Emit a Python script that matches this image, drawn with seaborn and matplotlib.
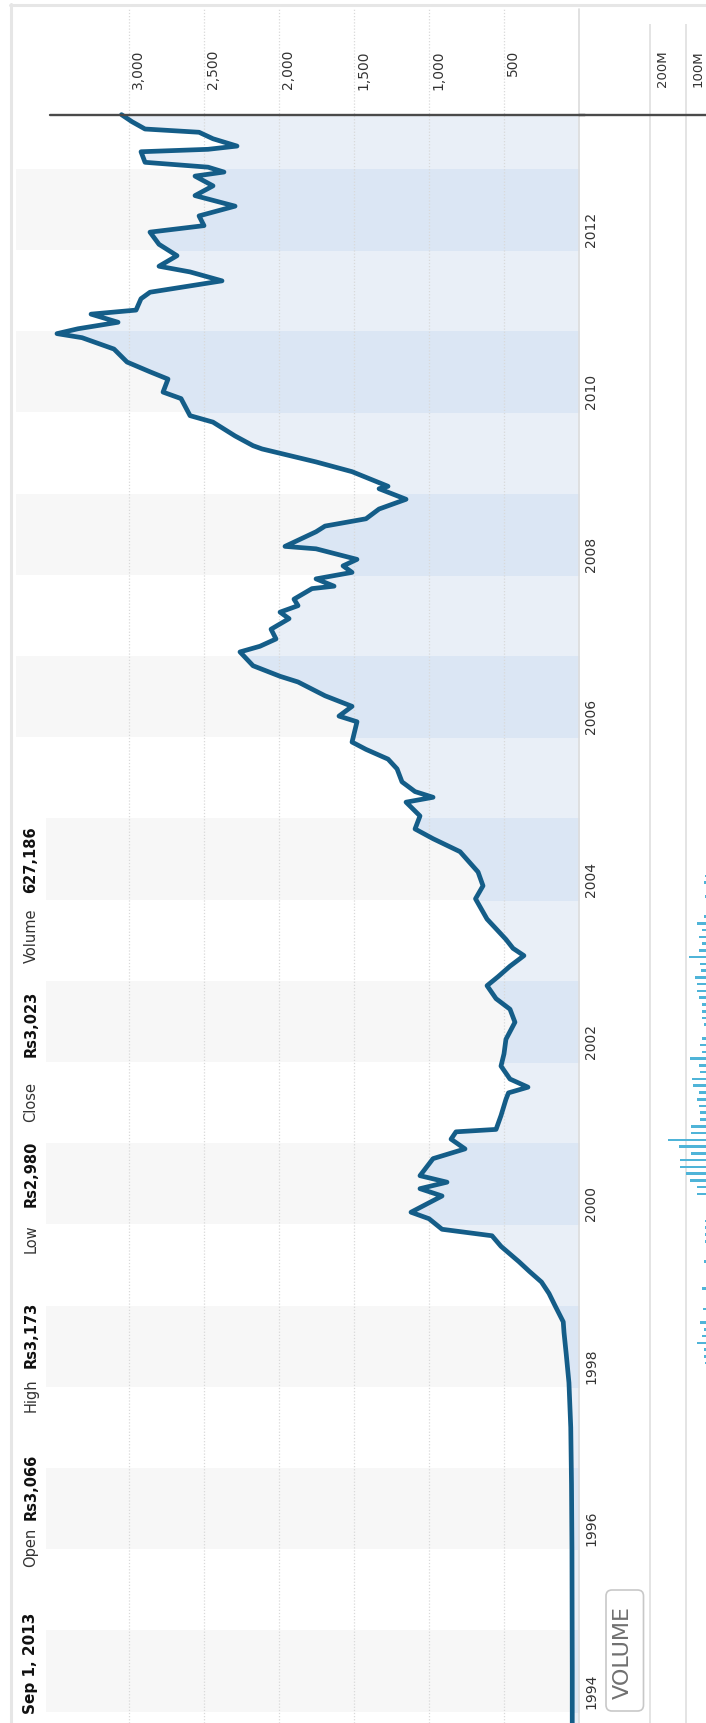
import numpy as np
import pandas as pd
import matplotlib
matplotlib.use("Agg")
import matplotlib.pyplot as plt
import matplotlib.transforms as mtransforms
from matplotlib.patches import Rectangle, FancyBboxPatch
from matplotlib.lines import Line2D
import seaborn as sns

# ---------------- data ----------------
price_time = [1993.86, 1994.50, 1995.30, 1996.00, 1996.80, 1997.50, 1998.05, 1998.40,
              1998.67, 1998.80, 1999.00, 1999.15, 1999.29, 1999.42, 1999.54, 1999.65,
              1999.73, 1999.86, 1999.94, 2000.07, 2000.15, 2000.35, 2000.44, 2000.52,
              2000.60, 2000.81, 2000.93, 2001.05, 2001.14, 2001.17, 2001.34, 2001.54,
              2001.62, 2001.69, 2001.79, 2001.95, 2002.10, 2002.28, 2002.49, 2002.65,
              2002.78, 2002.94, 2003.05, 2003.18, 2003.31, 2003.40, 2003.51, 2003.76,
              2004.01, 2004.17, 2004.34, 2004.59, 2004.75, 2004.87, 2005.03, 2005.20,
              2005.26, 2005.33, 2005.45, 2005.61, 2005.73, 2005.85, 2005.94, 2006.19,
              2006.26, 2006.38, 2006.51, 2006.68, 2006.75, 2006.88, 2007.05, 2007.12,
              2007.21, 2007.33, 2007.46, 2007.54, 2007.62, 2007.70, 2007.83, 2007.86,
              2007.95, 2008.03, 2008.11, 2008.19, 2008.32, 2008.35, 2008.53, 2008.60,
              2008.69, 2008.81, 2008.93, 2009.06, 2009.09, 2009.27, 2009.39, 2009.55,
              2009.59, 2009.71, 2009.88, 2009.96, 2010.17, 2010.25, 2010.41, 2010.50,
              2010.62, 2010.78, 2010.92, 2010.97, 2011.03, 2011.11, 2011.21, 2011.26,
              2011.40, 2011.48, 2011.62, 2011.73, 2011.80, 2011.93, 2012.07, 2012.22,
              2012.30, 2012.42, 2012.54, 2012.67, 2012.79, 2012.91, 2012.96, 2013.02,
              2013.08, 2013.21, 2013.24, 2013.28, 2013.37, 2013.45, 2013.49, 2013.58,
              2013.667]
price_value = [45, 45, 46, 47, 50, 55, 67, 85,
               100, 105, 160, 200, 250, 330, 400, 470,
               520, 580, 913, 1000, 1120, 913, 1060, 880,
               1060, 973, 760, 853, 820, 553, 520, 487,
               470, 340, 460, 520, 500, 487, 427, 460,
               553, 613, 540, 460, 367, 440, 487, 613,
               690, 640, 673, 793, 973, 1093, 1060, 1153,
               973, 1093, 1180, 1213, 1273, 1420, 1513, 1480,
               1600, 1513, 1693, 1873, 1993, 2173, 2260, 2127,
               2020, 2053, 1933, 1993, 1873, 1900, 1780, 1633,
               1753, 1513, 1573, 1480, 1753, 1960, 1753, 1693,
               1420, 1333, 1153, 1333, 1273, 1513, 1753, 2113,
               2173, 2293, 2440, 2593, 2653, 2773, 2740, 2860,
               3013, 3100, 3313, 3480, 3340, 3073, 3253, 2953,
               2920, 2860, 2380, 2593, 2800, 2680, 2800, 2860,
               2500, 2533, 2293, 2560, 2440, 2560, 2367, 2473,
               2893, 2920, 2473, 2280, 2440, 2533, 2893, 2980,
               3050]

vol_month = ["1998-04", "1998-05", "1998-06", "1998-07", "1998-08", "1998-09", "1998-10",
             "1998-12", "1999-03", "1999-07", "1999-10", "1999-11", "1999-12", "2000-01",
             "2000-05", "2000-06", "2000-07", "2000-08", "2000-09", "2000-10", "2000-11",
             "2000-12", "2001-01", "2001-02", "2001-03", "2001-04", "2001-05", "2001-06",
             "2001-07", "2001-08", "2001-09", "2001-10", "2001-11", "2001-12", "2002-01",
             "2002-02", "2002-03", "2002-04", "2002-06", "2002-07", "2002-08", "2002-09",
             "2002-10", "2002-11", "2002-12", "2003-01", "2003-02", "2003-03", "2003-04",
             "2003-05", "2003-06", "2003-07", "2003-08", "2003-09", "2003-10", "2004-01",
             "2004-03", "2004-04"]
vol_value = [44, 47, 49, 68, 54, 47, 58,
             51, 54, 49, 44, 44, 44, 44,
             68, 68, 86, 100, 116, 116, 84,
             119, 148, 84, 84, 60, 58, 63,
             68, 63, 79, 83, 58, 63, 88,
             54, 58, 54, 47, 54, 54, 54,
             63, 68, 68, 72, 56, 58, 91,
             63, 54, 63, 54, 68, 47, 45,
             47, 45]

price_ticks = [500, 1000, 1500, 2000, 2500, 3000]
vol_ticks = [100, 200]
year_ticks = list(range(1994, 2013, 2))
date_label = "Sep 1, 2013"
info_labels = ["Open", "High", "Low", "Close", "Volume"]
info_values = ["Rs3,066", "Rs3,173", "Rs2,980", "Rs3,023", "627,186"]
button_label = "VOLUME"

# ---------------- layout ----------------
sns.set_theme(style="white")
plt.rcParams['font.family'] = ['DejaVu Sans']

W, H = 706, 1724
fig = plt.figure(figsize=(W / 100, H / 100), dpi=100)
fig.patch.set_facecolor("white")


def fx(px):
    return px / W


def fy(py):
    return 1 - py / H


PX_PER_YEAR = 81.2
Y2012 = 251
t_bottom = 2012 - (H - Y2012) / PX_PER_YEAR
t_top = 2012 + (Y2012 - 10) / PX_PER_YEAR
last_t = price_time[-1]

ax = fig.add_axes([fx(16), 0, fx(579) - fx(16), fy(10)])
ax2 = fig.add_axes([fx(580), 0, fx(721) - fx(580), fy(10)])

vol_dt = pd.to_datetime(vol_month, format="%Y-%m")
vol_t = list(vol_dt.year + (vol_dt.month - 0.5) / 12.0)

# alternating year bands
for yr in year_ticks:
    ax.axhspan(yr, min(yr + 1, last_t), color="#f7f7f7", lw=0, zorder=0)

# area fill (lighter in white years, a bit stronger in shaded years)
ax.fill_betweenx(price_time, 0, price_value, color="#e9eff7", lw=0, zorder=1)
for yr in year_ticks:
    poly = ax.fill_betweenx(price_time, 0, price_value, color="#dbe6f4", lw=0, zorder=1.1)
    poly.set_clip_path(Rectangle((0, yr), 5000, 1, transform=ax.transData))

# dotted gridlines
ax.vlines(price_ticks, t_bottom, t_top, colors="#d9d9d9", linestyles=(0, (1, 1.5)),
          lw=0.9, zorder=1.5)

# price line
sns.lineplot(x=price_value, y=price_time, orient="y", color="#145d88", lw=3.4,
             ax=ax, zorder=3, solid_joinstyle="round", solid_capstyle="round")

# right border of price area
ax.axvline(0, color="#dcdcdc", lw=1.2, zorder=2, clip_on=False)

# volume area
ax2.vlines(vol_ticks, t_bottom, 2012 + (Y2012 - 25) / PX_PER_YEAR, colors="#dddddd", lw=1.1)
sns.barplot(x=vol_value, y=vol_t, orient="h", native_scale=True, color="#4fb4d8",
            saturation=1, width=0.38, errorbar=None, ax=ax2, zorder=2, lw=0)

ax.set_xlim((579 - 16) / 0.15, 0)
ax.set_ylim(t_bottom, t_top)
ax2.set_xlim((721 - 580) / 0.355, 0)
ax2.set_ylim(t_bottom, t_top)
for a in (ax, ax2):
    a.set_facecolor("none")
    a.axis("off")

# end-of-data line
ax.axhline(last_t, xmin=(50 - 16) / (579 - 16), xmax=1.01, color="#4a4a4a", lw=1.7,
           clip_on=False, zorder=4)
ax2.axhline(last_t, xmin=-0.01, xmax=1, color="#4a4a4a", lw=1.7, clip_on=False, zorder=4)

# tick labels
off = lambda dx, dy: mtransforms.ScaledTranslation(dx / 100, dy / 100, fig.dpi_scale_trans)
tp = mtransforms.blended_transform_factory(ax.transData, fig.transFigure)
for v in price_ticks:
    ax.text(v, fy(50), f"{v:,}", transform=tp + off(2, 0), rotation=90, ha="left",
            va="top", fontsize=10, color="#333333", clip_on=False)
tv = mtransforms.blended_transform_factory(ax2.transData, fig.transFigure)
for v in vol_ticks:
    ax2.text(v, fy(50), f"{v}M", transform=tv + off(6, 0), rotation=90, ha="left",
             va="top", fontsize=9.5, color="#333333", clip_on=False)
ty = mtransforms.blended_transform_factory(fig.transFigure, ax.transData)
for yr in year_ticks:
    ax.text(fx(584), yr, str(yr), transform=ty + off(0, 4), rotation=90, ha="left",
            va="bottom", fontsize=10, color="#333333", clip_on=False)

# frame
fig.add_artist(Rectangle((fx(12.5), 0), fx(46) - fx(12.5), fy(818),
                         transform=fig.transFigure, color="white", lw=0, zorder=1))
fig.add_artist(Line2D([fx(11), fx(11)], [fy(5), 0], color="#e6e6e6", lw=2.2, zorder=2))
fig.add_artist(Line2D([fx(10), 1], [fy(6), fy(6)], color="#e6e6e6", lw=2.2, zorder=2))

# info strip
info_items = [(date_label, "bold", 11)]
for lab, val in zip(info_labels, info_values):
    info_items.append((lab, "normal", 10.5))
    info_items.append((val, "bold", 10.5))
info_bottom = [1714, 1567, 1520, 1412, 1368, 1253, 1207, 1122, 1057, 963, 893]
for (s, w, fs), b in zip(info_items, info_bottom):
    fig.text(fx(31), fy(b), s, rotation=90, ha="center", va="bottom", fontsize=fs,
             fontweight=w, color="#111111" if w == "bold" else "#333333", zorder=3)

# VOLUME button
btn = FancyBboxPatch((6.06, (H - 1712) / 100), 0.375, 1.21,
                     boxstyle="round,pad=0,rounding_size=0.06",
                     transform=fig.dpi_scale_trans, facecolor="white",
                     edgecolor="#c8c8c8", lw=1.2, zorder=3)
fig.add_artist(btn)
fig.text(6.225, (H - 1653) / 100, button_label, transform=fig.dpi_scale_trans,
         rotation=90, ha="center", va="center", fontsize=16, color="#707070", zorder=4)

fig.savefig("out.png", dpi=100)
